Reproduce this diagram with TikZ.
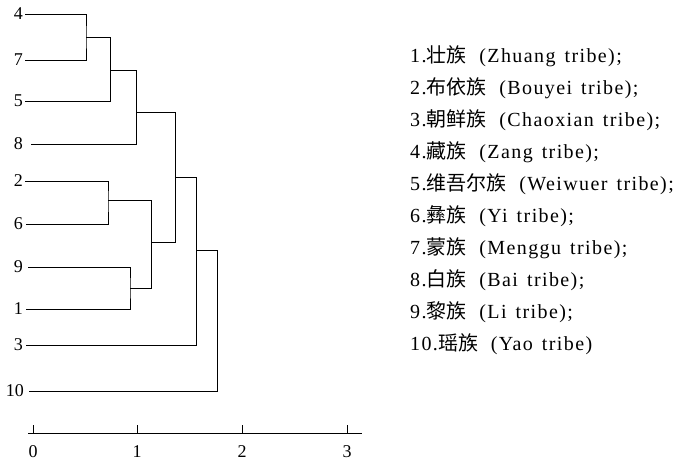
\documentclass[tikz,border=0pt]{standalone}
\usepackage{fontspec}
\setmainfont{Liberation Serif}
\newfontfamily\cjk{Noto Sans CJK SC}
\newfontfamily\legfont{Liberation Serif}[LetterSpace=7]
\newcommand{\wsp}{\hspace{0.45em}}
\tikzset{
  x=1pt, y=-1pt,
  branch/.style={line width=0.9pt, black},
  leaflabel/.style={anchor=east, inner sep=0pt, font=\fontsize{18}{18}\selectfont},
  ticklabel/.style={anchor=north, inner sep=0pt, font=\fontsize{18}{18}\selectfont},
  legendtext/.style={anchor=west, inner sep=0pt, font=\fontsize{20}{20}\legfont},
}
\begin{document}
\begin{tikzpicture}
\useasboundingbox (0,0) rectangle (690,461);
% leaf labels
\node[leaflabel] (l4)  at (23,14)  {4};
\node[leaflabel] (l7)  at (23,60)  {7};
\node[leaflabel] (l5)  at (23,101) {5};
\node[leaflabel] (l8)  at (23,144) {8};
\node[leaflabel] (l2)  at (23,181) {2};
\node[leaflabel] (l6)  at (23,224) {6};
\node[leaflabel] (l9)  at (23,267) {9};
\node[leaflabel] (l1)  at (23,309) {1};
\node[leaflabel] (l3)  at (23,345) {3};
\node[leaflabel] (l10) at (24,391) {10};
% junction coordinates
\coordinate (m47)   at (86,37);
\coordinate (m475)  at (110,70);
\coordinate (m4758) at (136,112);
\coordinate (m26)   at (108,200);
\coordinate (m91)   at (130,288);
\coordinate (m2691) at (151,242);
\coordinate (mA)    at (175,177);
\coordinate (mB)    at (196,250);
\coordinate (mC)    at (217,320);
% branches
\draw[branch] (l4.east) ++(2,0) -| (m47) |- ([xshift=2pt]l7.east);
\draw[branch] (m47) -| (m475);
\draw[branch] (m475) |- ([xshift=2pt]l5.east);
\draw[branch] (m475) -| (m4758);
\draw[branch] (m4758) |- ([xshift=8pt]l8.east);
\draw[branch] (m4758) -| (mA);
\draw[branch] (l2.east) ++(2,0) -| (m26) |- ([xshift=3pt]l6.east);
\draw[branch] (m26) -| (m2691);
\draw[branch] (l9.east) ++(5,0) -| (m91) |- ([xshift=3pt]l1.east);
\draw[branch] (m91) -| (m2691);
\draw[branch] (m2691) -| (mA);
\draw[branch] (mA) -| (mB);
\draw[branch] (mB) |- ([xshift=3pt]l3.east);
\draw[branch] (mB) -| (mC);
\draw[branch] (mC) |- ([xshift=5pt]l10.east);
% axis
\coordinate (a0) at (33,433);
\coordinate (a1) at (137,433);
\coordinate (a2) at (242,433);
\coordinate (a3) at (347,433);
\coordinate (aL) at (28,433);
\coordinate (aR) at (362,433);
\draw[branch] (aL) -- (aR);
\foreach \t in {a0,a1,a2,a3} \draw[branch] (\t) -- ++(0,-8);
\node[ticklabel] (t0) at ([yshift=-12pt]a0) {0};
\node[ticklabel] (t1) at ([yshift=-12pt]a1) {1};
\node[ticklabel] (t2) at ([yshift=-12pt]a2) {2};
\node[ticklabel] (t3) at ([yshift=-12pt]a3) {3};
% legend
\node[legendtext] (g1)  at (410,56)  {1.{\cjk 壮族}\ \ (Zhuang\wsp tribe);};
\node[legendtext] (g2)  at (410,88)  {2.{\cjk 布依族}\ \ (Bouyei\wsp tribe);};
\node[legendtext] (g3)  at (410,120) {3.{\cjk 朝鲜族}\ \ (Chaoxian\wsp tribe);};
\node[legendtext] (g4)  at (410,152) {4.{\cjk 藏族}\ \ (Zang\wsp tribe);};
\node[legendtext] (g5)  at (410,184) {5.{\cjk 维吾尔族}\ \ (Weiwuer\wsp tribe);};
\node[legendtext] (g6)  at (410,216) {6.{\cjk 彝族}\ \ (Yi\wsp tribe);};
\node[legendtext] (g7)  at (410,248) {7.{\cjk 蒙族}\ \ (Menggu\wsp tribe);};
\node[legendtext] (g8)  at (410,280) {8.{\cjk 白族}\ \ (Bai\wsp tribe);};
\node[legendtext] (g9)  at (410,312) {9.{\cjk 黎族}\ \ (Li\wsp tribe);};
\node[legendtext] (g10) at (410,344) {10.{\cjk 瑶族}\ \ (Yao\wsp tribe)};
\end{tikzpicture}
\end{document}
